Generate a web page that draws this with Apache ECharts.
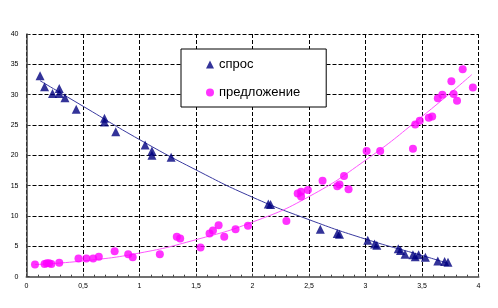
<!DOCTYPE html>
<html><head><meta charset="utf-8">
<script src="https://cdn.jsdelivr.net/npm/echarts@6/dist/echarts.min.js"></script>
<style>html,body{margin:0;padding:0;background:#fff}#c{width:498px;height:308px}</style>
</head><body><div id="c"></div>
<script>
const demandPoints = [[0.12,33.1],[0.16,31.3],[0.23,30.2],[0.29,31.0],[0.29,30.2],[0.34,29.5],[0.44,27.6],[0.69,26.1],[0.69,25.5],[0.79,23.9],[1.05,21.7],[1.11,20.7],[1.11,20.0],[1.28,19.7],[2.14,12.0],[2.16,11.9],[2.60,7.8],[2.75,7.1],[2.77,7.0],[3.02,6.0],[3.08,5.4],[3.10,5.2],[3.29,4.6],[3.31,4.3],[3.35,3.7],[3.42,3.6],[3.44,3.3],[3.47,3.6],[3.53,3.2],[3.64,2.6],[3.70,2.5],[3.73,2.4]];
const supplyPoints = [[0.075,2.0],[0.16,2.1],[0.18,2.2],[0.20,2.2],[0.22,2.1],[0.29,2.3],[0.46,3.0],[0.53,3.0],[0.59,3.0],[0.64,3.3],[0.78,4.2],[0.90,3.7],[0.94,3.2],[1.18,3.7],[1.33,6.6],[1.36,6.3],[1.54,4.8],[1.62,7.1],[1.65,7.6],[1.70,8.5],[1.75,6.6],[1.85,7.8],[1.96,8.4],[2.30,9.2],[2.40,13.7],[2.43,14.0],[2.43,13.2],[2.49,14.3],[2.62,15.8],[2.75,14.9],[2.77,15.2],[2.81,16.6],[2.85,14.4],[3.01,20.7],[3.13,20.7],[3.42,21.1],[3.44,25.1],[3.48,25.7],[3.56,26.2],[3.59,26.4],[3.64,29.4],[3.68,30.0],[3.76,32.2],[3.78,30.1],[3.81,29.0],[3.86,34.2],[3.95,31.2]];
const demandTrend = [[0.12,32.3],[0.5,28.1],[1.0,22.6],[1.5,17.6],[2.0,13.1],[2.5,9.4],[3.0,6.2],[3.5,3.5],[3.73,2.2]];
const supplyTrend = [[0.075,2.0],[0.5,2.6],[1.0,3.9],[1.5,6.1],[2.0,9.0],[2.5,13.2],[3.0,19.2],[3.5,26.4],[3.94,33.3]];
const xTicks = ['0','0,5','1','1,5','2','2,5','3','3,5','4'];
const yTicks = ['0','5','10','15','20','25','30','35','40'];
const seriesNames = ['спрос','предложение'];

const chart = echarts.init(document.getElementById('c'), null, {renderer:'canvas'});
const axisFont = () => ({fontFamily:'Liberation Sans, Arial, sans-serif', fontSize:7, color:'#000'});
const split = () => ({show:true, lineStyle:{color:'#000', type:'dashed', width:1}});
chart.setOption({
  animation:false,
  backgroundColor:'#fff',
  grid:{left:26.5, right:19.5, top:34, bottom:31.3, containLabel:false, show:false},
  xAxis:{type:'value', min:0, max:4, interval:0.5,
    axisLine:{show:true, onZero:false, lineStyle:{color:'#707070', width:2}},
    axisTick:{show:true, inside:true, length:3, lineStyle:{color:'#404040'}},
    minorTick:{show:true, splitNumber:5, length:2, lineStyle:{color:'#404040'}},
    axisLabel:Object.assign({margin:6, formatter:(v)=>xTicks[Math.round(v*2)]}, axisFont()),
    splitLine:split()},
  yAxis:{type:'value', min:0, max:40, interval:5,
    axisLine:{show:true, onZero:false, lineStyle:{color:'#404040', width:1.5}},
    axisTick:{show:true, inside:true, length:3, lineStyle:{color:'#404040'}},
    axisLabel:Object.assign({margin:8, formatter:(v)=>yTicks[Math.round(v/5)]}, axisFont()),
    splitLine:split()},
  legend:{data:seriesNames, orient:'vertical', left:181, top:49,
    backgroundColor:'#fff', borderColor:'#000', borderWidth:1,
    padding:[9,26,8,25], itemGap:15, itemWidth:8, itemHeight:8,
    textStyle:{fontFamily:'Liberation Sans, Arial, sans-serif', fontSize:13, color:'#000'}},
  series:[
    {name:seriesNames[0], type:'scatter', symbol:'triangle', symbolSize:9, data:demandPoints, itemStyle:{color:'#000080'}, z:3},
    {name:seriesNames[1], type:'scatter', symbol:'circle', symbolSize:8, data:supplyPoints, itemStyle:{color:'#ff00ff'}, z:3},
    {name:'trendD', type:'line', smooth:true, showSymbol:false, data:demandTrend, lineStyle:{color:'#3a3aa0', width:1}, z:2},
    {name:'trendS', type:'line', smooth:true, showSymbol:false, data:supplyTrend, lineStyle:{color:'#ff55ff', width:1}, z:2}
  ]
});
</script></body></html>
